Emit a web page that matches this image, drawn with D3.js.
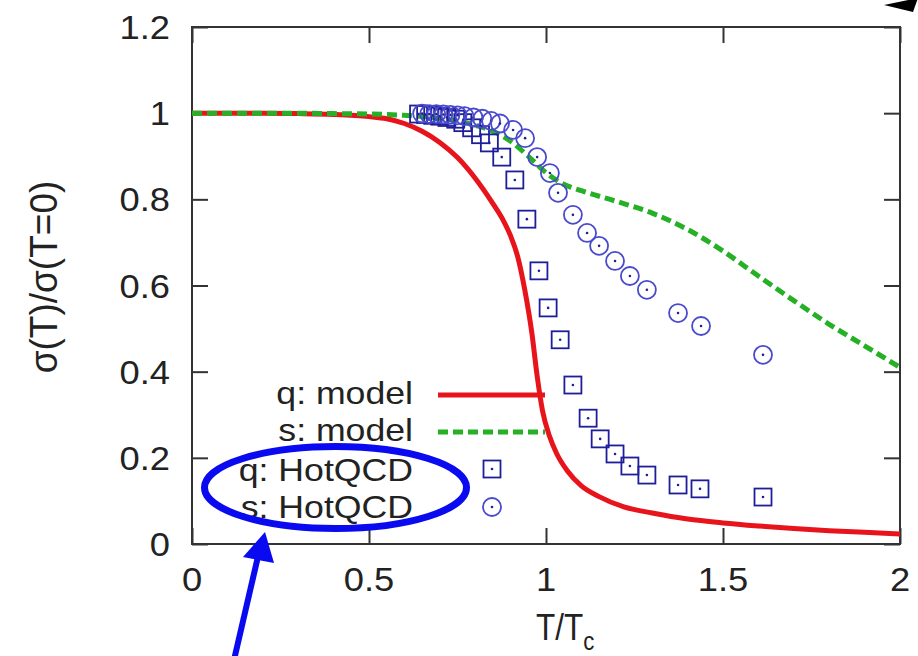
<!DOCTYPE html>
<html>
<head>
<meta charset="utf-8">
<script src="https://cdn.jsdelivr.net/npm/d3@7/dist/d3.min.js"></script>
<style>
  html, body { margin: 0; padding: 0; background: #fff; }
  svg { display: block; }
  text { font-family: "Liberation Sans", Arial, Helvetica, sans-serif; fill: #222; }
</style>
</head>
<body>
<svg id="chart" width="918" height="656"></svg>
<script>
// Model curves: sigma(T)/sigma(T=0) versus T/Tc
const modelT   = [0, 0.1, 0.2, 0.3, 0.4, 0.5, 0.55, 0.6, 0.65, 0.7, 0.75, 0.8, 0.85, 0.88, 0.9, 0.92, 0.94, 0.96, 0.975, 0.99, 1.01, 1.03, 1.06, 1.1, 1.15, 1.22, 1.3, 1.4, 1.5, 1.6, 1.7, 1.8, 1.9, 2.0];
const qModel   = [1, 1, 1, 0.999, 0.997, 0.992, 0.987, 0.976, 0.958, 0.932, 0.897, 0.849, 0.79, 0.75, 0.715, 0.667, 0.59, 0.49, 0.39, 0.31, 0.25, 0.21, 0.17, 0.135, 0.11, 0.086, 0.072, 0.058, 0.049, 0.042, 0.036, 0.031, 0.027, 0.023];
const sModelT  = [0, 0.1, 0.2, 0.3, 0.4, 0.5, 0.6, 0.7, 0.8, 0.85, 0.9, 0.95, 1.0, 1.05, 1.1, 1.2, 1.3, 1.4, 1.5, 1.6, 1.7, 1.8, 1.9, 2.0];
const sModel   = [1, 1, 1, 1, 0.999, 0.998, 0.995, 0.988, 0.972, 0.958, 0.935, 0.9, 0.862, 0.835, 0.82, 0.795, 0.768, 0.73, 0.68, 0.622, 0.565, 0.51, 0.46, 0.41];

// Lattice points (HotQCD)
const qLatT = [0.64, 0.66, 0.68, 0.70, 0.72, 0.745, 0.765, 0.79, 0.815, 0.84, 0.875, 0.912, 0.946, 0.98, 1.006, 1.04, 1.076, 1.119, 1.153, 1.195, 1.237, 1.285, 1.373, 1.435, 1.613];
const qLat  = [0.998, 0.997, 0.995, 0.993, 0.99, 0.986, 0.978, 0.966, 0.95, 0.931, 0.898, 0.845, 0.754, 0.634, 0.548, 0.474, 0.369, 0.292, 0.244, 0.209, 0.181, 0.160, 0.137, 0.128, 0.109];
const sLatT = [0.65, 0.67, 0.69, 0.71, 0.73, 0.75, 0.77, 0.795, 0.82, 0.845, 0.87, 0.907, 0.941, 0.975, 1.011, 1.034, 1.076, 1.116, 1.15, 1.195, 1.237, 1.285, 1.373, 1.438, 1.613];
const sLat  = [0.999, 0.998, 0.998, 0.997, 0.996, 0.995, 0.993, 0.99, 0.987, 0.982, 0.976, 0.961, 0.942, 0.898, 0.861, 0.815, 0.764, 0.722, 0.692, 0.657, 0.622, 0.590, 0.536, 0.506, 0.439];

// Axis ticks
const xTicks = [0, 0.5, 1, 1.5, 2];
const xTickLabels = ["0", "0.5", "1", "1.5", "2"];
const yTicks = [0, 0.2, 0.4, 0.6, 0.8, 1, 1.2];
const yTickLabels = ["0", "0.2", "0.4", "0.6", "0.8", "1", "1.2"];

// Legend entries
const legendLabels = ["q: model", "s: model", "q: HotQCD", "s: HotQCD"];

const svg = d3.select("#chart");
const plotLeft = 192, plotRight = 900, plotTop = 27, plotBottom = 544;
const x = d3.scaleLinear().domain([0, 2]).range([plotLeft, plotRight]);
const y = d3.scaleLinear().domain([0, 1.2]).range([plotBottom, plotTop]);

const RED = "#e8141c", GREEN = "#25b025", SQ = "#1e1e9a", CI = "#4a4acc";
const TICK = 16;

// Text with a horizontal stretch factor
function stretchedText(g, tx, ty, str, size, anchor, sx) {
  return g.append("g")
    .attr("transform", `translate(${tx},${ty}) scale(${sx},1)`)
    .append("text")
    .attr("font-size", size)
    .attr("text-anchor", anchor)
    .text(str);
}

// Inward ticks on all four sides
const axG = svg.append("g");
axG.append("g").attr("transform", `translate(0,${plotBottom})`)
  .call(d3.axisBottom(x).tickValues(xTicks).tickSizeInner(-TICK).tickSizeOuter(0).tickFormat(""));
axG.append("g").attr("transform", `translate(0,${plotTop})`)
  .call(d3.axisTop(x).tickValues(xTicks).tickSizeInner(-TICK).tickSizeOuter(0).tickFormat(""));
axG.append("g").attr("transform", `translate(${plotLeft},0)`)
  .call(d3.axisLeft(y).tickValues(yTicks).tickSizeInner(-TICK).tickSizeOuter(0).tickFormat(""));
axG.append("g").attr("transform", `translate(${plotRight},0)`)
  .call(d3.axisRight(y).tickValues(yTicks).tickSizeInner(-TICK).tickSizeOuter(0).tickFormat(""));
axG.selectAll(".domain").remove();
axG.selectAll("line").attr("stroke", "#333").attr("stroke-width", 2);

// Frame
svg.append("rect").attr("x", plotLeft).attr("y", plotTop)
  .attr("width", plotRight - plotLeft).attr("height", plotBottom - plotTop)
  .attr("fill", "none").attr("stroke", "#333").attr("stroke-width", 2);

// Tick labels
const labG = svg.append("g");
xTicks.forEach((t, i) => stretchedText(labG, x(t), 591, xTickLabels[i], 33, "middle", 1.1));
yTicks.forEach((t, i) => stretchedText(labG, 170, y(t) + 12, yTickLabels[i], 33, "end", 1.1));

// Axis titles
const xt = labG.append("g").attr("transform", `translate(536,640) scale(0.85,1)`)
  .append("text").attr("font-size", 37).attr("text-anchor", "start");
xt.append("tspan").text("T/T");
xt.append("tspan").attr("font-size", 26).attr("dy", 10).text("c");

labG.append("g").attr("transform", `translate(57,277) rotate(-90) scale(1,1.05)`)
  .append("text").attr("font-size", 37).attr("text-anchor", "middle").text("σ(T)/σ(T=0)");

// Legend
const legG = svg.append("g");
const legBase = [404, 441, 481, 518];
legendLabels.forEach((s, i) => stretchedText(legG, 413, legBase[i], s, 31, "end", 1.15));
legG.append("line").attr("x1", 438).attr("x2", 545).attr("y1", 395).attr("y2", 395)
  .attr("stroke", RED).attr("stroke-width", 5);
legG.append("line").attr("x1", 438).attr("x2", 545).attr("y1", 432).attr("y2", 432)
  .attr("stroke", GREEN).attr("stroke-width", 5).attr("stroke-dasharray", "10,5");

// Model curves
const plotG = svg.append("g");
const curve = d3.line().curve(d3.curveMonotoneX).x(d => x(d[0])).y(d => y(d[1]));
plotG.append("path").datum(modelT.map((t, i) => [t, qModel[i]]))
  .attr("d", curve)
  .attr("fill", "none").attr("stroke", RED).attr("stroke-width", 5);
plotG.append("path").datum(sModelT.map((t, i) => [t, sModel[i]]))
  .attr("d", curve)
  .attr("fill", "none").attr("stroke", GREEN).attr("stroke-width", 5).attr("stroke-dasharray", "10,5");

// Marker helpers
function square(g, cx, cy) {
  g.append("rect").attr("x", cx - 8.5).attr("y", cy - 8.5).attr("width", 17).attr("height", 17)
    .attr("fill", "none").attr("stroke", SQ).attr("stroke-width", 1.8);
  g.append("circle").attr("cx", cx).attr("cy", cy).attr("r", 1.3).attr("fill", SQ);
}
function ring(g, cx, cy) {
  g.append("circle").attr("cx", cx).attr("cy", cy).attr("r", 9)
    .attr("fill", "none").attr("stroke", CI).attr("stroke-width", 1.8);
  g.append("circle").attr("cx", cx).attr("cy", cy).attr("r", 1.3).attr("fill", "#222288");
}

const sqG = plotG.append("g");
qLatT.forEach((t, i) => square(sqG, x(t), y(qLat[i])));
const ciG = plotG.append("g");
sLatT.forEach((t, i) => ring(ciG, x(t), y(sLat[i])));
square(legG, 492, 469);
ring(legG, 492, 507);

// Highlight annotation: ellipse around the lattice legend entries and pointer arrow
const ann = svg.append("g");
ann.append("ellipse").attr("cx", 335.5).attr("cy", 487.5).attr("rx", 131).attr("ry", 41)
  .attr("fill", "none").attr("stroke", "#0a0af0").attr("stroke-width", 7);
ann.append("line").attr("x1", 234).attr("y1", 660).attr("x2", 259).attr("y2", 552)
  .attr("stroke", "#0a0af0").attr("stroke-width", 6);
ann.append("polygon").attr("points", "265,532 243,557 274,563").attr("fill", "#0a0af0");

// Arrowhead entering from the upper right corner
ann.append("polygon").attr("points", "884,5 918,-2 913,12").attr("fill", "#000");
</script>
</body>
</html>
